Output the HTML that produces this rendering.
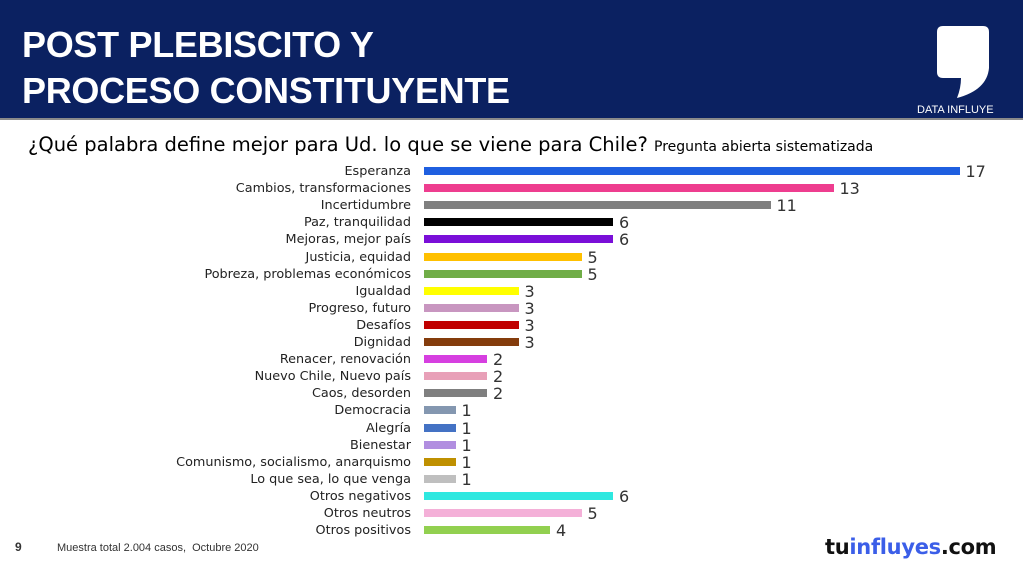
<!DOCTYPE html>
<html><head><meta charset="utf-8"><style>
body{margin:0;width:1023px;height:573px;overflow:hidden;background:#fff;font-family:"Liberation Sans",sans-serif;position:relative}
.hdr{position:absolute;left:0;top:0;width:1023px;height:118px;background:#0b2161;border-bottom:2px solid #8a8a8a}
.t{position:absolute;left:22px;color:#fff;font-weight:bold;font-size:36px;letter-spacing:-0.3px}
.q{position:absolute;left:28px;top:133px;font-size:19.5px;color:#000;font-family:"DejaVu Sans",sans-serif}
.q small{font-size:14px}
.row{position:absolute;left:0;height:17px}
.lab{position:absolute;right:612px;width:400px;text-align:right;font-size:12.8px;color:#222;line-height:17px;font-family:"DejaVu Sans",sans-serif}
.bar{position:absolute;left:424px;top:4px;height:8px}
.val{position:absolute;font-size:16px;color:#333;line-height:17px;font-family:"DejaVu Sans",sans-serif}
</style></head><body>
<div class="hdr">
<div class="t" style="top:24px">POST PLEBISCITO Y</div>
<div class="t" style="top:70px">PROCESO CONSTITUYENTE</div>
<svg style="position:absolute;left:935px;top:24px" width="56" height="76" viewBox="0 0 56 76"><path d="M8 2 H48 Q54 2 54 8 V44 Q52 66 22 74 Q26 64 26 54 H8 Q2 54 2 48 V8 Q2 2 8 2Z" fill="#fff"/></svg>
<div style="position:absolute;left:917px;top:104px;color:#fff;font-size:11px">DATA INFLUYE</div>
</div>
<div class="q">¿Qué palabra define mejor para Ud. lo que se viene para Chile? <small>Pregunta abierta sistematizada</small></div>
<div id="c"></div>
<div style="position:absolute;left:15px;top:540px;font-size:12px;font-weight:bold;color:#333">9</div>
<div style="position:absolute;left:57px;top:542px;font-size:11px;color:#333">Muestra total 2.004 casos,&nbsp; Octubre 2020</div>
<div style="position:absolute;left:825px;top:535px;font-size:21px;font-weight:bold;color:#111;letter-spacing:-0.3px;font-family:'DejaVu Sans',sans-serif">tu<span style="color:#3b5ee8">influyes</span>.com</div>
<script>
var d=[["Esperanza",17,"#1f5fe0"],["Cambios, transformaciones",13,"#ee3d8f"],["Incertidumbre",11,"#7f7f7f"],["Paz, tranquilidad",6,"#000"],["Mejoras, mejor país",6,"#7a0fd8"],["Justicia, equidad",5,"#ffc000"],["Pobreza, problemas económicos",5,"#70ad47"],["Igualdad",3,"#ffff00"],["Progreso, futuro",3,"#c896c0"],["Desafíos",3,"#c00000"],["Dignidad",3,"#843c0c"],["Renacer, renovación",2,"#d63fe0"],["Nuevo Chile, Nuevo país",2,"#e8a0b8"],["Caos, desorden",2,"#7f7f7f"],["Democracia",1,"#8497b0"],["Alegría",1,"#4472c4"],["Bienestar",1,"#b18ee0"],["Comunismo, socialismo, anarquismo",1,"#bf9000"],["Lo que sea, lo que venga",1,"#bfbfbf"],["Otros negativos",6,"#2ee8e0"],["Otros neutros",5,"#f4b0d8"],["Otros positivos",4,"#92d050"]];
var h="";d.forEach(function(r,i){var y=163+i*17.1,w=r[1]*31.5;
h+='<div class="row" style="top:'+y+'px;width:1023px"><div class="lab">'+r[0]+'</div><div class="bar" style="width:'+w+'px;background:'+r[2]+'"></div><div class="val" style="left:'+(424+w+6)+'px">'+r[1]+'</div></div>';});
document.getElementById("c").innerHTML=h;
</script>
</body></html>
